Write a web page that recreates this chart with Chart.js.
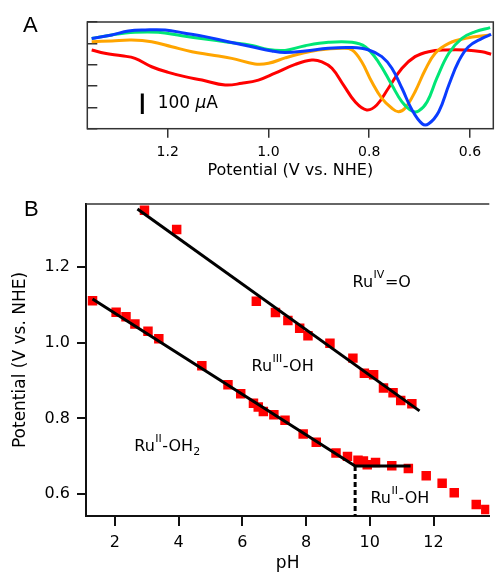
<!DOCTYPE html>
<html>
<head>
<meta charset="utf-8">
<script src="https://cdn.jsdelivr.net/npm/chart.js@4.4.1/dist/chart.umd.min.js"></script>
<style>
  html, body { margin: 0; padding: 0; background: #fff; }
  #wrap { position: relative; width: 496px; height: 574px; overflow: hidden; }
  canvas { position: absolute; left: 0; }
  #cvA { top: 0; }
  #cvB { top: 180px; }
</style>
</head>
<body>
<div id="wrap">
  <canvas id="cvA" width="496" height="180"></canvas>
  <canvas id="cvB" width="496" height="394"></canvas>
</div>
<script>
// Panel A: voltammograms (potential in V, current in µA)
const redE = [1.351, 1.325, 1.291, 1.265, 1.232, 1.199, 1.166, 1.132, 1.086, 1.053, 1.020, 0.987, 0.947, 0.914, 0.894, 0.874, 0.851, 0.828, 0.805, 0.785, 0.762, 0.735, 0.709, 0.682, 0.649, 0.609, 0.576, 0.558];
const redI = [-85, -100, -112, -124, -163, -189, -209, -225, -248, -240, -225, -193, -152, -132, -140, -170, -248, -326, -364, -341, -263, -170, -116, -93, -85, -85, -93, -105];

const orangeE = [1.351, 1.311, 1.272, 1.232, 1.192, 1.152, 1.113, 1.073, 1.027, 1.000, 0.967, 0.941, 0.901, 0.854, 0.834, 0.815, 0.795, 0.775, 0.755, 0.742, 0.729, 0.709, 0.689, 0.669, 0.642, 0.609, 0.560];
const orangeI = [-47, -43, -39, -47, -70, -93, -108, -124, -150, -147, -122, -105, -85, -77, -85, -140, -233, -310, -356, -372, -356, -279, -178, -100, -54, -31, -15];

const greenE = [1.351, 1.311, 1.265, 1.219, 1.172, 1.126, 1.080, 1.033, 1.001, 0.967, 0.927, 0.881, 0.834, 0.808, 0.782, 0.755, 0.735, 0.715, 0.702, 0.685, 0.666, 0.642, 0.616, 0.589, 0.560];
const greenI = [-32, -15, -3, -3, -19, -34, -49, -64, -83, -87, -65, -49, -49, -70, -140, -248, -326, -369, -369, -326, -217, -100, -31, 0, 19];

const blueE = [1.351, 1.311, 1.278, 1.245, 1.205, 1.166, 1.126, 1.080, 1.033, 0.993, 0.967, 0.927, 0.881, 0.834, 0.801, 0.775, 0.755, 0.735, 0.715, 0.695, 0.682, 0.662, 0.642, 0.623, 0.603, 0.576, 0.558];
const blueI = [-32, -15, 3, 8, 8, -7, -23, -47, -70, -90, -97, -90, -77, -74, -85, -116, -170, -263, -364, -428, -428, -372, -248, -140, -70, -31, -13];

// 100 µA scale bar
const scaleBarE = [1.2505, 1.2505];
const scaleBarI = [-287, -383];

const potentialTicksA = [0.6, 0.8, 1.0, 1.2];

// Panel B: Pourbaix diagram
const upperPH = [2.93, 3.94, 6.44, 7.04, 7.43, 7.80, 8.06, 8.75, 9.47, 9.83, 10.12, 10.43, 10.73, 10.97, 11.32];
const upperE = [1.349, 1.298, 1.109, 1.079, 1.058, 1.038, 1.018, 0.998, 0.959, 0.919, 0.915, 0.880, 0.868, 0.847, 0.839];

const lowerPH = [1.30, 2.04, 2.35, 2.63, 3.04, 3.38, 4.73, 5.55, 5.95, 6.35, 6.50, 6.66, 6.99, 7.34, 7.91, 8.32, 8.94, 9.30, 9.63, 9.80, 9.92, 10.18, 10.69, 11.21, 11.77, 12.27, 12.65, 13.34, 13.64];
const lowerE = [1.110, 1.080, 1.068, 1.049, 1.030, 1.010, 0.939, 0.889, 0.865, 0.840, 0.830, 0.818, 0.810, 0.795, 0.759, 0.737, 0.709, 0.700, 0.690, 0.688, 0.678, 0.684, 0.675, 0.668, 0.649, 0.629, 0.604, 0.573, 0.560];

// fitted lines
const fitUpperPH = [2.71, 11.56];
const fitUpperE = [1.352, 0.820];
const fitLowerPH = [1.30, 9.54, 11.28];
const fitLowerE = [1.115, 0.6745, 0.6745];
const pKaPH = [9.54, 9.54];
const pKaE = [0.6745, 0.543];

const phTicks = [2, 4, 6, 8, 10, 12];
const potentialTicksB = [0.6, 0.8, 1.0, 1.2];

const stateLabels = [
  { pH: 9.46, E: 1.146, main: 'Ru', sup: 'IV', tail: '=O', sub: '' },
  { pH: 6.29, E: 0.926, main: 'Ru', sup: 'III', tail: '-OH', sub: '' },
  { pH: 2.61, E: 0.714, main: 'Ru', sup: 'II', tail: '-OH', sub: '2' },
  { pH: 10.02, E: 0.578, main: 'Ru', sup: 'II', tail: '-OH', sub: '' }
];

function pts(xs, ys) {
  return xs.map((x, i) => ({ x: x, y: ys[i] }));
}

Chart.defaults.font.family = 'DejaVu Sans';
Chart.defaults.color = '#000';

// ---------- Panel A ----------
function curve(xs, ys, color) {
  return {
    data: pts(xs, ys),
    borderColor: color,
    borderWidth: 3,
    pointRadius: 0,
    tension: 0.4,
    fill: false
  };
}

const panelA = {
  id: 'panelA',
  afterDraw(chart) {
    const ctx = chart.ctx;
    const a = chart.chartArea;
    const sx = chart.scales.x, sy = chart.scales.y;
    ctx.save();
    ctx.strokeStyle = '#333';
    ctx.lineWidth = 1.5;
    ctx.strokeRect(a.left, a.top, a.right - a.left, a.bottom - a.top);

    // label of the scale bar
    let x = sx.getPixelForValue(1.22);
    const y = sy.getPixelForValue(-356);
    ctx.fillStyle = '#000';
    ctx.textBaseline = 'alphabetic';
    ctx.font = '17px "DejaVu Sans"';
    ctx.fillText('100 ', x, y);
    x += ctx.measureText('100 ').width;
    ctx.font = 'italic 17px "DejaVu Sans"';
    ctx.fillText('\u00b5', x, y);
    x += ctx.measureText('\u00b5').width;
    ctx.font = '17px "DejaVu Sans"';
    ctx.fillText('A', x, y);

    ctx.font = '22px "Liberation Sans"';
    ctx.fillText('A', 23, 31.7);
    ctx.restore();
  }
};

new Chart(document.getElementById('cvA'), {
  type: 'line',
  data: {
    datasets: [
      curve(blueE, blueI, '#0a3cff'),
      curve(greenE, greenI, '#00e676'),
      curve(orangeE, orangeI, '#ffa500'),
      curve(redE, redI, '#ff0000'),
      {
        data: pts(scaleBarE, scaleBarI),
        borderColor: '#000',
        borderWidth: 3,
        pointRadius: 0,
        tension: 0
      }
    ]
  },
  options: {
    responsive: false,
    animation: false,
    layout: { padding: { top: 22, right: 2.7, bottom: 0, left: 0 } },
    plugins: { legend: { display: false }, tooltip: { enabled: false } },
    scales: {
      x: {
        type: 'linear',
        reverse: true,
        min: 0.5537,
        max: 1.3597,
        afterFit(s) { s.height = 51.3; },
        afterBuildTicks(s) { s.ticks = potentialTicksA.map(v => ({ value: v })); },
        border: { display: false },
        grid: { drawOnChartArea: false, tickLength: 9, color: '#333', lineWidth: 1.5 },
        ticks: {
          padding: 6,
          font: { size: 14 },
          callback: v => v.toFixed(1)
        },
        title: {
          display: true,
          text: 'Potential (V vs. NHE)',
          font: { size: 16 },
          padding: { top: 0, bottom: 0 }
        }
      },
      y: {
        min: -451,
        max: 45,
        afterFit(s) { s.width = 87.3; },
        border: { display: false },
        grid: { drawOnChartArea: false, tickLength: -10, color: '#333', lineWidth: 1.5 },
        ticks: { display: false, stepSize: 100, includeBounds: false }
      }
    }
  },
  plugins: [panelA]
});

// ---------- Panel B ----------
function fitLine(xs, ys, dash) {
  return {
    type: 'line',
    data: pts(xs, ys),
    borderColor: '#000',
    borderWidth: 3,
    borderDash: dash,
    pointRadius: 0,
    showLine: true,
    tension: 0
  };
}

const panelB = {
  id: 'panelB',
  afterDraw(chart) {
    const ctx = chart.ctx;
    const a = chart.chartArea;
    const sx = chart.scales.x, sy = chart.scales.y;
    ctx.save();
    ctx.strokeStyle = '#333';
    ctx.lineWidth = 1.5;
    ctx.beginPath();
    ctx.moveTo(a.left, a.top);
    ctx.lineTo(a.right, a.top);
    ctx.stroke();

    ctx.fillStyle = '#000';
    ctx.textBaseline = 'alphabetic';
    stateLabels.forEach(l => {
      let x = sx.getPixelForValue(l.pH);
      const y = sy.getPixelForValue(l.E);
      ctx.font = '16px "DejaVu Sans"';
      ctx.fillText(l.main, x, y);
      x += ctx.measureText(l.main).width + 0.5;
      ctx.font = '11px "DejaVu Sans"';
      ctx.fillText(l.sup, x, y - 9);
      x += ctx.measureText(l.sup).width + 0.5;
      ctx.font = '16px "DejaVu Sans"';
      ctx.fillText(l.tail, x, y);
      x += ctx.measureText(l.tail).width;
      if (l.sub) {
        ctx.font = '11px "DejaVu Sans"';
        ctx.fillText(l.sub, x, y + 4);
      }
    });

    ctx.font = '22px "Liberation Sans"';
    ctx.fillText('B', 24, 35.7);
    ctx.restore();
  }
};

new Chart(document.getElementById('cvB'), {
  type: 'scatter',
  data: {
    datasets: [
      fitLine(fitUpperPH, fitUpperE, []),
      fitLine(fitLowerPH, fitLowerE, []),
      fitLine(pKaPH, pKaE, [5, 3]),
      {
        data: pts(upperPH, upperE),
        pointStyle: 'rect',
        pointRadius: 6.7,
        backgroundColor: '#ff0000',
        borderWidth: 0
      },
      {
        data: pts(lowerPH, lowerE),
        pointStyle: 'rect',
        pointRadius: 6.7,
        backgroundColor: '#ff0000',
        borderWidth: 0
      }
    ]
  },
  options: {
    responsive: false,
    animation: false,
    layout: { padding: { top: 24, right: 0, bottom: 0, left: 0 } },
    plugins: { legend: { display: false }, tooltip: { enabled: false } },
    scales: {
      x: {
        type: 'linear',
        min: 1.095,
        max: 13.75,
        afterFit(s) { s.height = 58; },
        afterBuildTicks(s) { s.ticks = phTicks.map(v => ({ value: v })); },
        border: { display: true, color: '#111', width: 2 },
        grid: { drawOnChartArea: false, tickLength: 10, color: '#111', lineWidth: 2 },
        ticks: { padding: 7, font: { size: 16 }, callback: v => String(v) },
        title: {
          display: true,
          text: 'pH',
          font: { size: 17 },
          padding: { top: 0, bottom: 0 }
        }
      },
      y: {
        type: 'linear',
        min: 0.5428,
        max: 1.3653,
        afterFit(s) { s.width = 86; },
        afterBuildTicks(s) { s.ticks = potentialTicksB.map(v => ({ value: v })); },
        border: { display: true, color: '#111', width: 2 },
        grid: { drawOnChartArea: false, tickLength: 9, color: '#111', lineWidth: 2 },
        ticks: { padding: 7, font: { size: 16 }, callback: v => v.toFixed(1) },
        title: {
          display: true,
          text: 'Potential (V vs. NHE)',
          font: { size: 17 },
          padding: { top: 10, bottom: 0 }
        }
      }
    }
  },
  plugins: [panelB]
});
</script>
</body>
</html>
